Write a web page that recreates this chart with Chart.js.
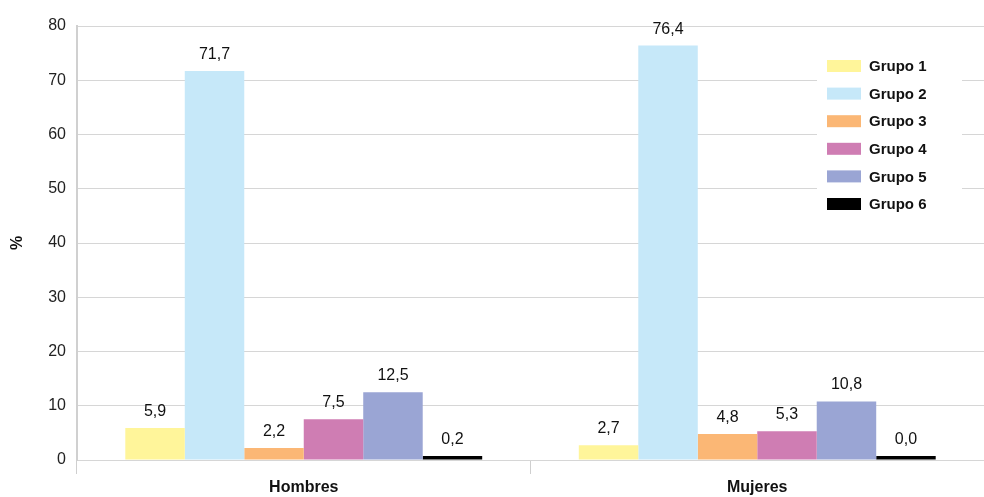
<!DOCTYPE html>
<html>
<head>
<meta charset="utf-8">
<script src="https://cdn.jsdelivr.net/npm/chart.js@4"></script>
<style>
  html, body { margin: 0; padding: 0; background: #fff; }
  #chart { display: block; }
</style>
</head>
<body>
<canvas id="chart" width="984" height="497"></canvas>
<script>
const categories = ["Hombres", "Mujeres"];
const groupNames = ["Grupo 1", "Grupo 2", "Grupo 3", "Grupo 4", "Grupo 5", "Grupo 6"];
const grupo1 = [5.9, 2.7];
const grupo2 = [71.7, 76.4];
const grupo3 = [2.2, 4.8];
const grupo4 = [7.5, 5.3];
const grupo5 = [12.5, 10.8];
const grupo6 = [0.2, 0.0];
const yTicks = [0, 10, 20, 30, 40, 50, 60, 70, 80];

const colors = ["#fff59a", "#c6e8f9", "#fbb775", "#cf7db3", "#9aa5d4", "#000000"];
const series = [grupo1, grupo2, grupo3, grupo4, grupo5, grupo6];

const fontFamily = "'Liberation Sans', Arial, Helvetica, sans-serif";

// value labels over every bar, decimal comma
const barLabels = {
  id: "barLabels",
  afterDatasetsDraw(chart) {
    const ctx = chart.ctx;
    ctx.save();
    ctx.font = "16px " + fontFamily;
    ctx.fillStyle = "#111";
    ctx.textAlign = "center";
    ctx.textBaseline = "alphabetic";
    chart.data.datasets.forEach((ds, i) => {
      chart.getDatasetMeta(i).data.forEach((bar, j) => {
        const txt = ds.data[j].toFixed(1).replace(".", ",");
        ctx.fillText(txt, bar.x, bar.y - 12);
      });
    });
    ctx.restore();
  }
};

// boxed legend inside the plot, top right
const boxLegend = {
  id: "boxLegend",
  afterDraw(chart) {
    const ctx = chart.ctx;
    const x0 = 817, y0 = 52, w = 145, h = 164;
    ctx.save();
    ctx.fillStyle = "#fff";
    ctx.fillRect(x0, y0, w, h);
    ctx.font = "bold 15px " + fontFamily;
    ctx.textBaseline = "middle";
    ctx.textAlign = "left";
    chart.data.datasets.forEach((ds, i) => {
      const cy = 66 + i * 27.6;
      ctx.fillStyle = ds.backgroundColor;
      ctx.fillRect(827, cy - 6, 34, 12);
      ctx.fillStyle = "#111";
      ctx.fillText(ds.label, 869, cy + 1);
    });
    ctx.restore();
  }
};

const datasets = groupNames.map((name, i) => ({
  label: name,
  data: series[i],
  backgroundColor: colors[i],
  borderWidth: 0,
  minBarLength: i === 5 ? 4 : 0,
  categoryPercentage: 0.787,
  barPercentage: 1.0
}));

new Chart(document.getElementById("chart"), {
  type: "bar",
  data: { labels: categories, datasets: datasets },
  options: {
    responsive: false,
    animation: false,
    layout: { padding: { top: 26, right: 0, left: 8, bottom: 0 } },
    plugins: {
      legend: { display: false },
      tooltip: { enabled: false }
    },
    scales: {
      x: {
        afterFit(axis) {
          axis.height = 37;
        },
        grid: {
          offset: true,
          drawOnChartArea: false,
          color: "#cfcfcf",
          tickLength: 14,
          lineWidth: 1
        },
        border: { display: false },
        ticks: {
          color: "#111",
          padding: 4,
          font: { family: fontFamily, size: 16, weight: "bold" }
        }
      },
      y: {
        min: 0,
        max: 80,
        afterBuildTicks(axis) {
          axis.ticks = yTicks.map(v => ({ value: v }));
        },
        grid: {
          color: "#d6d6d6",
          lineWidth: 1,
          tickLength: 0
        },
        border: { display: true, color: "#d0d0d0", width: 2 },
        ticks: {
          color: "#222",
          padding: 11,
          font: { family: fontFamily, size: 16 }
        },
        title: {
          display: true,
          text: "%",
          color: "#111",
          padding: { top: 0, bottom: 10 },
          font: { family: fontFamily, size: 16, weight: "bold" }
        }
      }
    }
  },
  plugins: [barLabels, boxLegend]
});
</script>
</body>
</html>
